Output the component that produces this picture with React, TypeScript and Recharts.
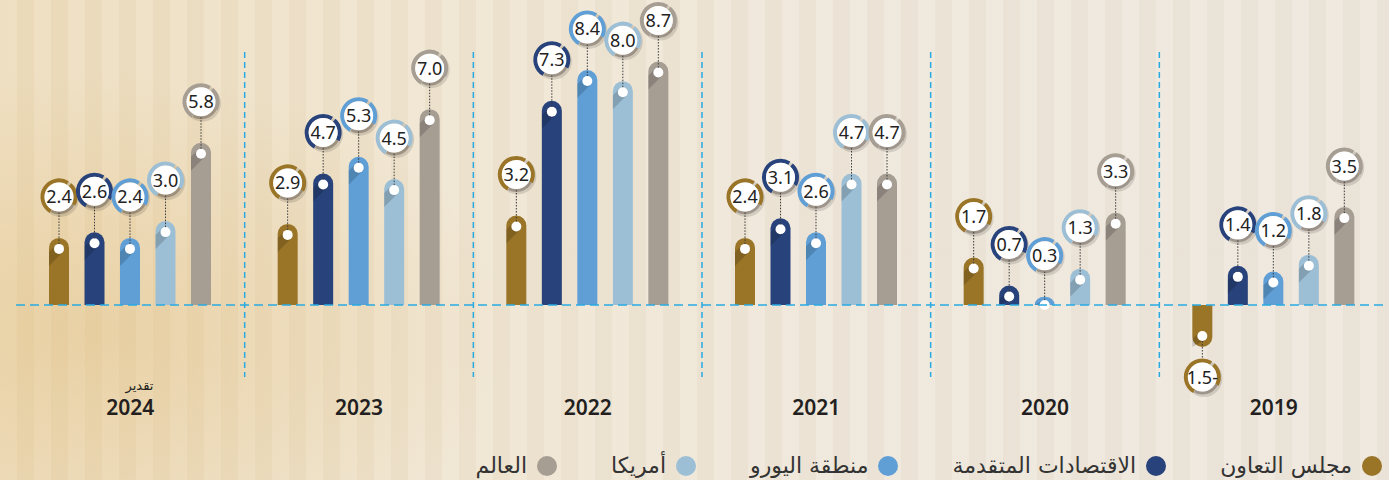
import { BarChart, Bar, XAxis, YAxis, ReferenceLine, Legend } from "recharts";

// years run right-to-left in the original, so 2024 sits on the left
const years = ["2024", "2023", "2022", "2021", "2020", "2019"];
const yearNotes = ["تقدير", "", "", "", "", ""];

const gcc = [2.4, 2.9, 3.2, 2.4, 1.7, -1.5];
const advanced = [2.6, 4.7, 7.3, 3.1, 0.7, 1.4];
const euro = [2.4, 5.3, 8.4, 2.6, 0.3, 1.2];
const usa = [3.0, 4.5, 8.0, 4.7, 1.3, 1.8];
const world = [5.8, 7.0, 8.7, 4.7, 3.3, 3.5];

const seriesKeys = ["gcc", "advanced", "euro", "usa", "world"];
const seriesNames = ["مجلس التعاون", "الاقتصادات المتقدمة", "منطقة اليورو", "أمريكا", "العالم"];
const seriesColors = ["#9a7427", "#28437b", "#5f9fd6", "#9cbfd6", "#a69d93"];

const data = years.map((year, i) => ({
  year,
  gcc: gcc[i],
  advanced: advanced[i],
  euro: euro[i],
  usa: usa[i],
  world: world[i],
}));

const CYAN = "#29abe2";
const ARABIC = "'DejaVu Sans', 'Noto Sans', sans-serif";

function fmt(v: number) {
  return v < 0 ? `${Math.abs(v).toFixed(1)}-` : v.toFixed(1);
}

function arc(cx: number, cy: number, r: number, a0: number, a1: number) {
  const p = (a: number) => {
    const rad = (a * Math.PI) / 180;
    return [cx + r * Math.sin(rad), cy - r * Math.cos(rad)];
  };
  const [x0, y0] = p(a0);
  const [x1, y1] = p(a1);
  const large = a1 - a0 > 180 ? 1 : 0;
  return `M${x0},${y0} A${r},${r} 0 ${large} 1 ${x1},${y1}`;
}

function Lollipop(props: any) {
  const { x, y, width, height, payload, dataKey, color } = props;
  const v = payload[dataKey] as number;
  const top = Math.min(y, y + height);
  const bottom = Math.max(y, y + height);
  const h = bottom - top;
  const r = width / 2;
  const cx = x + r;
  const neg = v < 0;
  const ry = Math.min(r, Math.max(h, 1));

  let path: string;
  let dotY: number;
  let labelY: number;
  if (!neg) {
    path = `M${x},${bottom} L${x},${top + ry} A${r},${ry} 0 0 1 ${x + width},${top + ry} L${x + width},${bottom} Z`;
    dotY = Math.min(top + 11, bottom);
    labelY = top - 41;
  } else {
    path = `M${x},${top} L${x},${bottom - ry} A${r},${ry} 0 0 0 ${x + width},${bottom - ry} L${x + width},${top} Z`;
    dotY = bottom - 11;
    labelY = bottom + 30;
  }

  // long shadow cast by the dot toward the lower left, kept inside the bar
  const s = 3.5;
  const reach = cx - x;
  const shY1 = Math.min(dotY - s + reach - s, bottom);
  const shY2 = Math.min(dotY + s + reach + s, bottom);
  const shadow = `M${cx - s},${dotY - s} L${x},${shY1} L${x},${shY2} L${cx + s},${Math.min(dotY + s, bottom)} Z`;

  const lineFrom = neg ? dotY + 5 : dotY - 5;
  const lineTo = neg ? labelY - 15 : labelY + 15;

  return (
    <g>
      <path d={path} fill={color} />
      <path d={shadow} fill="rgba(0,0,0,0.16)" />
      <circle cx={cx} cy={dotY} r={5} fill="#ffffff" />
      <line x1={cx} y1={lineFrom} x2={cx} y2={lineTo} stroke="#3a3a3a" strokeWidth={1} strokeDasharray="1.5 1.5" />
      <circle cx={cx + 1.5} cy={labelY + 1.5} r={18.5} fill="rgba(0,0,0,0.12)" />
      <path d={arc(cx, labelY, 16.5, -150, 32)} stroke={color} strokeWidth={4} fill="none" />
      <path d={arc(cx, labelY, 16.5, 42, 118)} stroke={color} strokeWidth={4} fill="none" />
      <path d={arc(cx, labelY, 16, 118, 208)} stroke="rgba(95,85,75,0.45)" strokeWidth={3} fill="none" />
      <circle cx={cx} cy={labelY} r={14.5} fill="#ffffff" />
      <text
        x={cx}
        y={labelY + 6.5}
        textAnchor="middle"
        fontFamily="'Noto Sans', sans-serif"
        fontSize={18}
        fill="#222"
      >
        {fmt(v)}
      </text>
    </g>
  );
}

function YearTick(props: any) {
  const { x, y, payload, index } = props;
  const note = yearNotes[index];
  const sepX = payload.coordinate - (payload.offset ?? 0);
  return (
    <g>
      {index > 0 && (
        <line x1={sepX} y1={y - 367} x2={sepX} y2={y - 42} stroke={CYAN} strokeWidth={1.5} strokeDasharray="6 4" />
      )}
      {note && (
        <text x={x + 23} y={y - 29} textAnchor="end" fontFamily={ARABIC} fontSize={13} fill="#231f20">
          {note}
        </text>
      )}
      <text
        x={x}
        y={y - 4}
        textAnchor="middle"
        fontFamily="'Noto Sans', sans-serif"
        fontWeight={600}
        fontSize={21}
        fill="#231f20"
      >
        {payload.value}
      </text>
    </g>
  );
}

function LegendRow() {
  return (
    <div style={{ display: "flex", direction: "rtl", gap: 54, alignItems: "center" }}>
      {seriesNames.map((name, i) => (
        <div key={name} style={{ display: "flex", alignItems: "center", gap: 10 }}>
          <span
            style={{
              width: 20,
              height: 20,
              borderRadius: "50%",
              background: seriesColors[i],
              display: "inline-block",
            }}
          />
          <span style={{ fontFamily: ARABIC, fontSize: 22, color: "#333", lineHeight: "22px" }}>{name}</span>
        </div>
      ))}
    </div>
  );
}

export default function App() {
  return (
    <div
      style={{
        position: "absolute",
        left: 0,
        top: 0,
        width: 1389,
        height: 480,
        overflow: "hidden",
        background:
          "radial-gradient(ellipse 420px 260px at 90px 330px, rgba(226,190,125,0.45), rgba(226,190,125,0) 100%)," +
          "repeating-linear-gradient(90deg, rgba(255,255,255,0.10) 0 17px, rgba(120,90,50,0.025) 17px 34px)," +
          "linear-gradient(90deg, #eddcbb 0%, #efe4cf 30%, #eee6d9 60%, #ede6dc 100%)",
      }}
    >
      <BarChart
        width={1389}
        height={480}
        data={data}
        margin={{ top: 0, right: 1, left: 16, bottom: 0 }}
        barSize={20}
        barGap={15.5}
      >
        <XAxis
          dataKey="year"
          axisLine={false}
          tickLine={false}
          tickSize={0}
          height={63}
          interval={0}
          tick={<YearTick />}
        />
        <YAxis hide domain={[-4, 10.9]} allowDataOverflow />
        <ReferenceLine y={0} stroke={CYAN} strokeWidth={1.5} strokeDasharray="9 5" />
        {seriesKeys.map((k, i) => (
          <Bar
            key={k}
            dataKey={k}
            name={seriesNames[i]}
            fill={seriesColors[i]}
            isAnimationActive={false}
            shape={(p: any) => <Lollipop {...p} dataKey={k} color={seriesColors[i]} />}
          />
        ))}
        <Legend
          layout="horizontal"
          verticalAlign="middle"
          align="center"
          wrapperStyle={{ top: 455, right: 7, left: "auto", width: "auto" }}
          content={<LegendRow />}
        />
      </BarChart>
    </div>
  );
}
